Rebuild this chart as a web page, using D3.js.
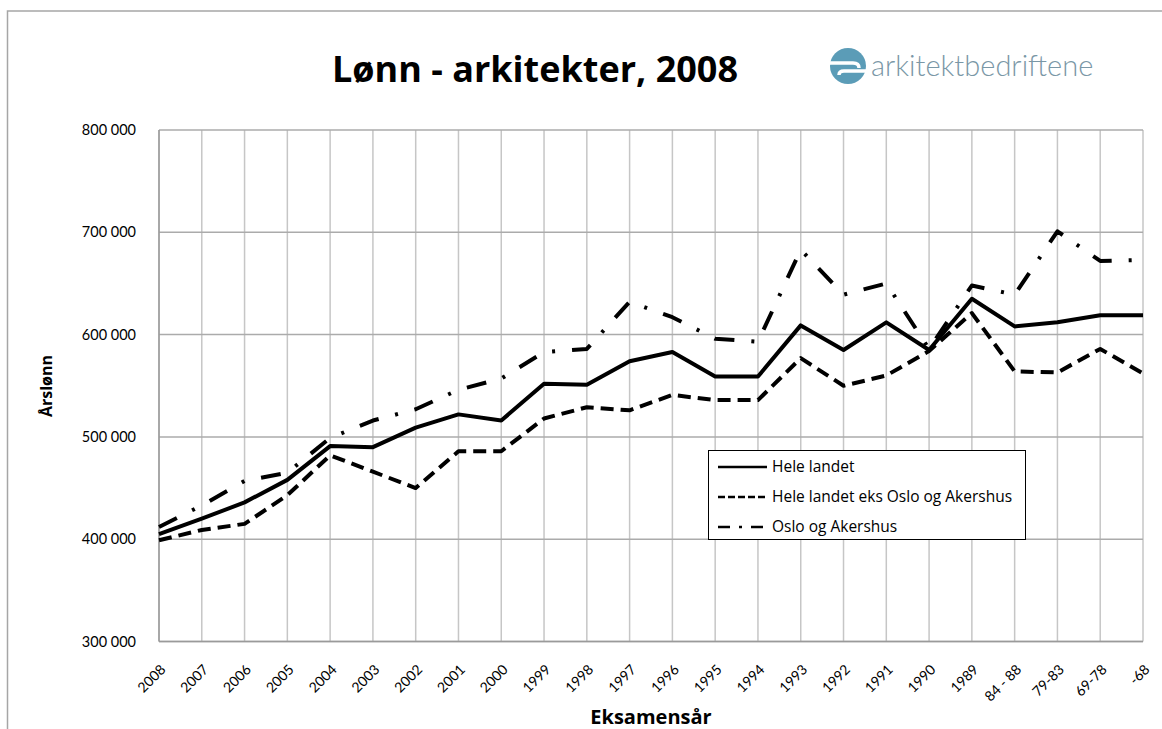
<!DOCTYPE html>
<html>
<head>
<meta charset="utf-8">
<script src="https://cdn.jsdelivr.net/npm/d3@7"></script>
<style>
  body { margin: 0; background: #fff; }
  svg { display: block; font-family: "Open Sans", Lato, sans-serif; }
</style>
</head>
<body>
<div id="chart"></div>
<script>
const categories = ["2008", "2007", "2006", "2005", "2004", "2003", "2002", "2001", "2000", "1999",
  "1998", "1997", "1996", "1995", "1994", "1993", "1992", "1991", "1990", "1989",
  "84 - 88", "79-83", "69-78", "-68"];

const heleLandet = [405000, 420000, 436000, 458000, 491000, 490000, 509000, 522000, 516000, 552000,
  551000, 574000, 583000, 559000, 559000, 609000, 585000, 612000, 585000, 635000,
  608000, 612000, 619000, 619000];

const eksOsloAkershus = [399000, 409000, 415000, 443000, 482000, 466000, 450000, 486000, 486000, 518000,
  529000, 526000, 541000, 536000, 536000, 577000, 550000, 560000, 584000, 621000,
  564000, 563000, 586000, 562000];

const osloAkershus = [412000, 433000, 457000, 465000, 499000, 516000, 527000, 546000, 557000, 583000,
  586000, 632000, 617000, 596000, 593000, 683000, 639000, 650000, 586000, 648000,
  639000, 701000, 672000, 673000];

const yTicks = [300000, 400000, 500000, 600000, 700000, 800000];

const series = [
  { name: "Hele landet", values: heleLandet, dash: null, legendDash: null },
  { name: "Hele landet eks Oslo og Akershus", values: eksOsloAkershus, dash: "13,7", legendDash: "7,3" },
  { name: "Oslo og Akershus", values: osloAkershus, dash: "20,17,3,17", legendDash: "12,9,3,9" }
];

const width = 1162, height = 729;
const plotLeft = 159, plotRight = 1143, plotTop = 130, plotBottom = 641.5;

const svg = d3.select("#chart").append("svg")
  .attr("width", width)
  .attr("height", height);

svg.append("rect").attr("width", width).attr("height", height).attr("fill", "#fff");

// chart frame
svg.append("path")
  .attr("d", `M7.5,${height} V11 H${width}`)
  .attr("fill", "none")
  .attr("stroke", "#a6a6a6")
  .attr("stroke-width", 1.5);

const x = d3.scalePoint().domain(categories).range([plotLeft, plotRight]);
const y = d3.scaleLinear().domain([300000, 800000]).range([plotBottom, plotTop]);

const nb = d3.formatLocale({ decimal: ",", thousands: " ", grouping: [3], currency: ["", ""] });
const fmt = nb.format(",");

// vertical grid
svg.append("g")
  .selectAll("line")
  .data(categories)
  .enter()
  .append("line")
  .attr("x1", d => x(d)).attr("x2", d => x(d))
  .attr("y1", plotTop).attr("y2", plotBottom)
  .attr("stroke", "#c6c6c6")
  .attr("stroke-width", 1.5);

// horizontal grid
svg.append("g")
  .selectAll("line")
  .data(yTicks)
  .enter()
  .append("line")
  .attr("x1", plotLeft).attr("x2", plotRight)
  .attr("y1", d => y(d)).attr("y2", d => y(d))
  .attr("stroke", "#ababab")
  .attr("stroke-width", 1.5);

// axis lines
svg.append("line")
  .attr("x1", plotLeft).attr("x2", plotLeft).attr("y1", plotTop).attr("y2", plotBottom)
  .attr("stroke", "#9a9a9a").attr("stroke-width", 1.5);
svg.append("line")
  .attr("x1", plotLeft).attr("x2", plotRight).attr("y1", plotBottom).attr("y2", plotBottom)
  .attr("stroke", "#9a9a9a").attr("stroke-width", 1.5);

// y axis labels
const yAxis = svg.append("g")
  .attr("transform", `translate(${plotLeft},0)`)
  .call(d3.axisLeft(y).tickValues(yTicks).tickFormat(fmt).tickSize(0).tickPadding(23));
yAxis.select(".domain").remove();
yAxis.selectAll("text")
  .attr("font-family", "Lato, sans-serif")
  .attr("font-size", "14.5px")
  .attr("fill", "#000");

// x axis labels
const xAxis = svg.append("g")
  .attr("transform", `translate(0,${plotBottom})`)
  .call(d3.axisBottom(x).tickSize(0).tickPadding(0));
xAxis.select(".domain").remove();
xAxis.selectAll("text")
  .attr("font-family", "Lato, sans-serif")
  .attr("font-size", "14px")
  .attr("fill", "#000")
  .attr("dy", null)
  .attr("y", null)
  .attr("text-anchor", "end")
  .attr("transform", "translate(7,29) rotate(-45)");

// lines
const line = d3.line()
  .x((d, i) => x(categories[i]))
  .y(d => y(d));

svg.append("g")
  .selectAll("path")
  .data(series)
  .enter()
  .append("path")
  .attr("d", d => line(d.values))
  .attr("fill", "none")
  .attr("stroke", "#000")
  .attr("stroke-width", 4)
  .attr("stroke-linejoin", "round")
  .attr("stroke-dasharray", d => d.dash);

// legend
const legend = svg.append("g");
legend.append("rect")
  .attr("x", 708.5).attr("y", 450.5)
  .attr("width", 317).attr("height", 89)
  .attr("fill", "#fff")
  .attr("stroke", "#000")
  .attr("stroke-width", 1);

const items = legend.selectAll("g.item")
  .data(series)
  .enter()
  .append("g")
  .attr("class", "item")
  .attr("transform", (d, i) => `translate(0,${467 + i * 30})`);

items.append("line")
  .attr("x1", 718).attr("x2", 767)
  .attr("stroke", "#000")
  .attr("stroke-width", 2.5)
  .attr("stroke-dasharray", d => d.legendDash);

items.append("text")
  .attr("x", 772)
  .attr("dy", "0.35em")
  .attr("font-size", "15.5px")
  .text(d => d.name);

// title
svg.append("text")
  .attr("x", 535).attr("y", 82)
  .attr("text-anchor", "middle")
  .attr("font-size", "36px")
  .attr("font-weight", "bold")
  .text("Lønn - arkitekter, 2008");

// axis titles
svg.append("text")
  .attr("x", 651).attr("y", 724)
  .attr("text-anchor", "middle")
  .attr("font-size", "20px")
  .attr("font-weight", "bold")
  .text("Eksamensår");

svg.append("text")
  .attr("transform", `translate(52,386) rotate(-90)`)
  .attr("text-anchor", "middle")
  .attr("font-size", "16px")
  .attr("font-weight", "bold")
  .text("Årslønn");

// logo
const logo = svg.append("g").attr("transform", "translate(848,66)");
logo.append("circle").attr("r", 18).attr("fill", "#5b9cb7");
logo.append("path")
  .attr("d", "M-18,-3 H5 Q11,-3 11,2")
  .attr("fill", "none").attr("stroke", "#fff").attr("stroke-width", 3.5);
logo.append("path")
  .attr("d", "M-9,9 Q-9,5 -4,5 H18")
  .attr("fill", "none").attr("stroke", "#fff").attr("stroke-width", 3.5);
svg.append("text")
  .attr("x", 871).attr("y", 76)
  .attr("font-family", "Lato, sans-serif")
  .attr("font-size", "29px")
  .attr("font-weight", 300)
  .attr("fill", "#7a97a6")
  .text("arkitektbedriftene");
</script>
</body>
</html>
